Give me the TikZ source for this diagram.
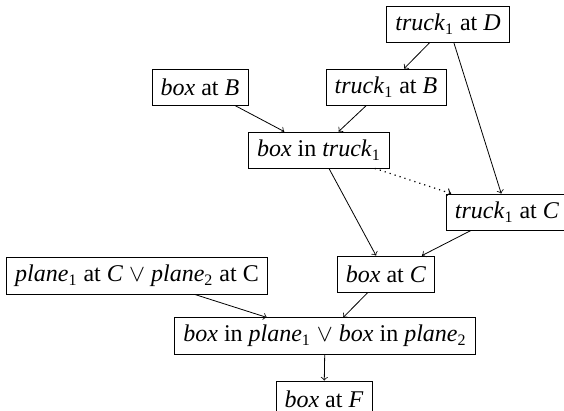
\documentclass[11pt,tikz,border=0pt]{standalone}
\usepackage{amsmath}
\usepackage{fontspec}
\setmainfont{Liberation Serif}
\usepackage{tikz}

\newcommand{\one}{$_{\text{1}}$}
\newcommand{\two}{$_{\text{2}}$}

\begin{document}
\begin{tikzpicture}[x=0.5pt, y=-0.5pt, auto]
    \tikzstyle{fact} = [rectangle, draw, inner xsep=4.3pt, minimum height=18pt, text centered, font=\fontsize{12}{14}\selectfont]
    \useasboundingbox (0,0) rectangle (564,411);

    % Truck
    \node [fact] (truckD) at (448,24) {\textit{truck}\one{} at \textit{D}};
    \node [fact] (truckB) at (386,87) {\textit{truck}\one{} at \textit{B}};
    \node [fact] (truckC) at (507,212) {\textit{truck}\one{} at \textit{C}};

    % Box
    \node [fact] (boxB) at (200,87) {\textit{box} at \textit{B}};
    \node [fact] (boxInTruck) at (319,150) {\textit{box} in \textit{truck}\one};
    \node [fact] (boxC) at (386,274) {\textit{box} at \textit{C}};

    % Planes
    \node [fact] (planeC) at (137,276) {\textit{plane}\one{} at \textit{C} $\vee$ \textit{plane}\two{} at C};
    \node [fact] (boxInPlane) at (325,336) {\textit{box} in \textit{plane}\one{} $\vee$ \textit{box} in \textit{plane}\two};
    \node [fact] (boxF) at (324,399) {\textit{box} at \textit{F}};

    % Connections
    \draw [->] (truckD) -- (truckB);
    \draw [->] (truckD) -- (truckC);
    \draw [->] (boxB) -- (boxInTruck);
    \draw [->] (truckB) -- (boxInTruck);
    \draw [->, dotted, line width=0.6pt] (boxInTruck) -- (truckC);
    \draw [->] (boxInTruck) -- (boxC);
    \draw [->] (truckC) -- (boxC);
    \draw [->] (planeC) -- (boxInPlane);
    \draw [->] (boxC) -- (boxInPlane);
    \draw [->] (boxInPlane) -- (boxF);
\end{tikzpicture}
\end{document}
